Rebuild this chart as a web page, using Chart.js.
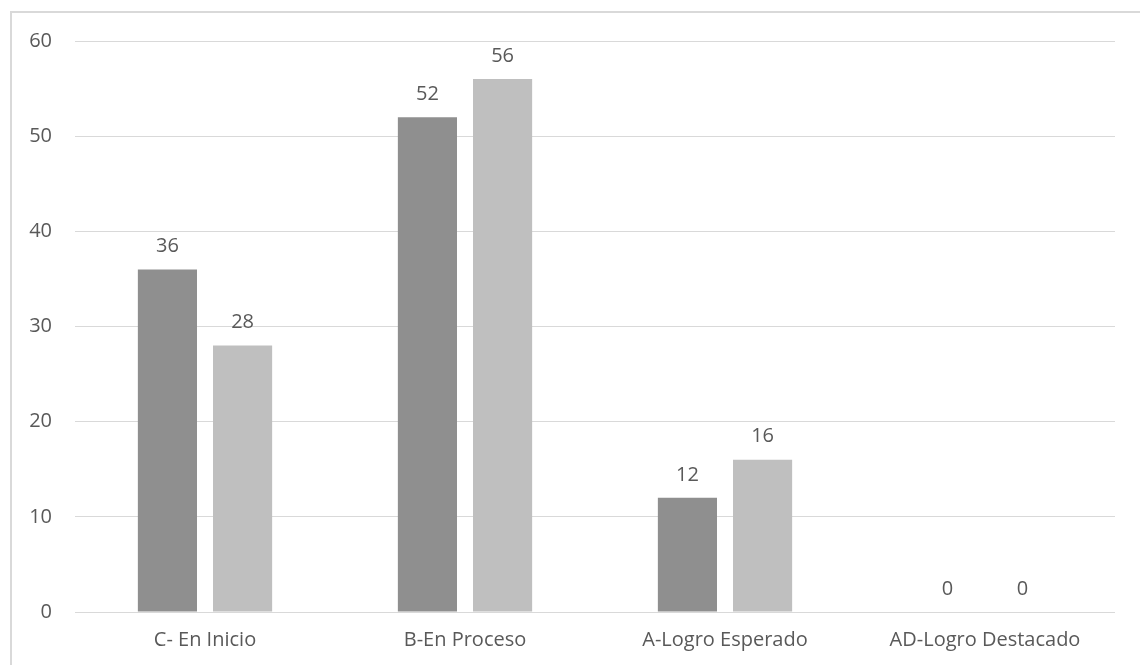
<!DOCTYPE html>
<html><head><meta charset="utf-8">
<script src="https://cdn.jsdelivr.net/npm/chart.js@4/dist/chart.umd.min.js"></script>
<style>
html,body{margin:0;padding:0;background:#fff;overflow:hidden;}
#frame{position:absolute;left:10px;top:11px;width:1200px;height:700px;border-left:2px solid #d9d9d9;border-top:2px solid #d9d9d9;box-sizing:border-box;}
#wrap{position:absolute;left:0;top:0;width:1140px;height:665px;}
</style></head><body>
<div id="frame"></div>
<div id="wrap"><canvas id="c" width="1140" height="665"></canvas></div>
<script>
const categories = ["C- En Inicio", "B-En Proceso", "A-Logro Esperado", "AD-Logro Destacado"];
const series1 = [36, 52, 12, 0];
const series2 = [28, 56, 16, 0];
const yTicks = [0, 10, 20, 30, 40, 50, 60];

const FONT = "'Open Sans', sans-serif";
const TEXT = '#595959';
const FS = 20;

const labelPlugin = {
  id: 'valueLabels',
  afterDatasetsDraw(chart) {
    const ctx = chart.ctx;
    ctx.save();
    ctx.font = FS + "px " + FONT;
    ctx.fillStyle = TEXT;
    ctx.textAlign = 'center';
    ctx.textBaseline = 'middle';
    chart.data.datasets.forEach((ds, i) => {
      chart.getDatasetMeta(i).data.forEach((bar, j) => {
        ctx.fillText(String(ds.data[j]), bar.x, bar.y - 23);
      });
    });
    ctx.restore();
  }
};

new Chart(document.getElementById('c'), {
  type: 'bar',
  data: {
    labels: categories,
    datasets: [
      { label: 'Serie 1', data: series1, backgroundColor: '#8f8f8f', barPercentage: 0.787, categoryPercentage: 0.578 },
      { label: 'Serie 2', data: series2, backgroundColor: '#bfbfbf', barPercentage: 0.787, categoryPercentage: 0.578 }
    ]
  },
  options: {
    responsive: false,
    animation: false,
    layout: { padding: { left: 0, right: 25, top: 41, bottom: 0 } },
    plugins: { legend: { display: false }, tooltip: { enabled: false } },
    scales: {
      x: {
        grid: { display: false, drawTicks: false },
        border: { display: false },
        ticks: { color: TEXT, font: { family: FONT, size: FS }, padding: 16 },
        afterFit: s => { s.height = 53; }
      },
      y: {
        min: 0, max: 60,
        afterBuildTicks: s => { s.ticks = yTicks.map(v => ({ value: v })); },
        grid: { color: '#d9d9d9', lineWidth: 1, drawTicks: false },
        border: { display: false },
        ticks: { color: TEXT, font: { family: FONT, size: FS }, padding: 23 },
        afterFit: s => { s.width = 75; }
      }
    }
  },
  plugins: [labelPlugin]
});
</script>
</body></html>
